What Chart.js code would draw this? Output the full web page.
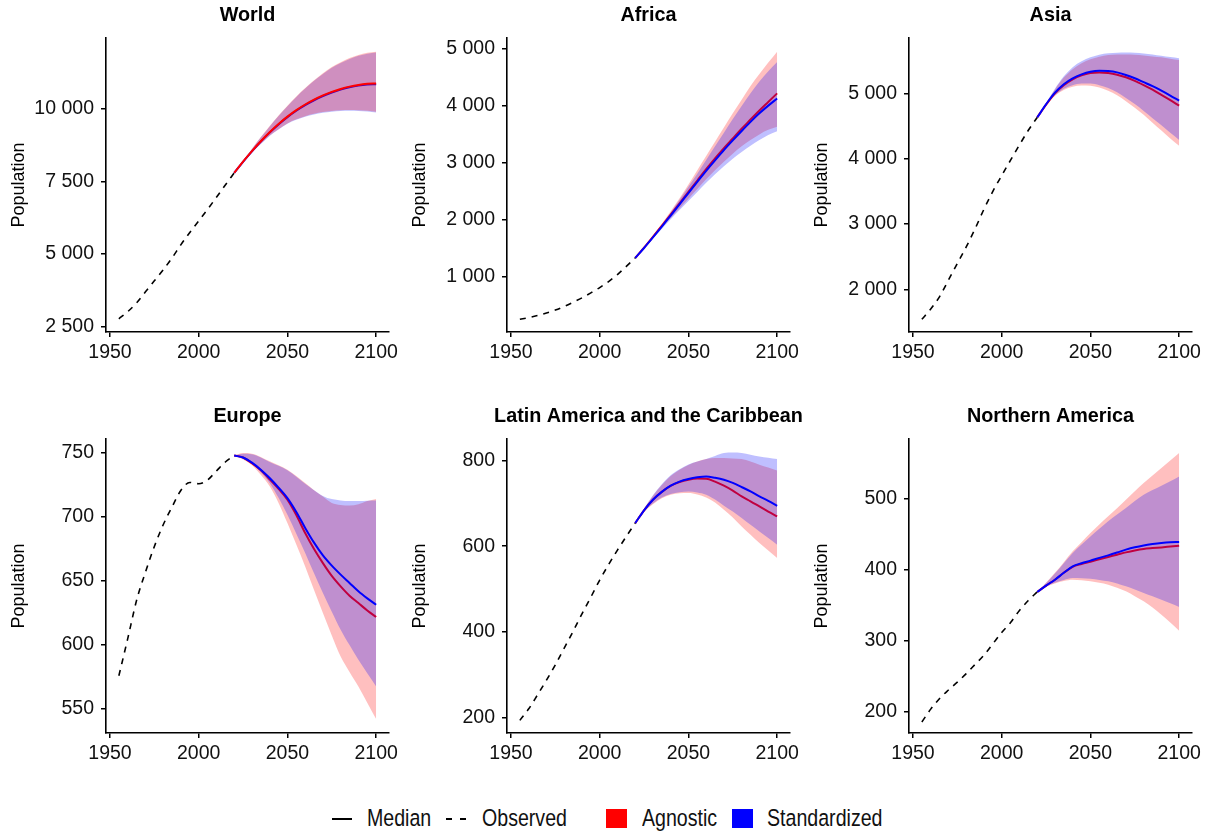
<!DOCTYPE html>
<html>
<head>
<meta charset="utf-8">
<script src="https://cdn.jsdelivr.net/npm/chart.js@4.4.1/dist/chart.umd.min.js"></script>
<style>
  html, body { margin: 0; overflow: hidden; }
  body { background: #fff; width: 1210px; height: 833px; position: relative;
         font-family: "Liberation Sans", Arial, sans-serif; }
  canvas { position: absolute; }
  .lg { position: absolute; }
  .lt { position: absolute; top: 807px; font-size: 19.6px; line-height: 19.6px; color: #111;
        transform: scaleY(1.18); transform-origin: 0 0; white-space: nowrap; }
</style>
</head>
<body>
<canvas id="p0" width="495" height="372" style="left:0;top:0"></canvas>
<canvas id="p1" width="495" height="372" style="left:401px;top:0"></canvas>
<canvas id="p2" width="495" height="372" style="left:803px;top:0"></canvas>
<canvas id="p3" width="495" height="372" style="left:0;top:401px"></canvas>
<canvas id="p4" width="495" height="372" style="left:401px;top:401px"></canvas>
<canvas id="p5" width="495" height="372" style="left:803px;top:401px"></canvas>

<div class="lg" style="left:332px;top:818px;width:20px;height:2px;background:#000"></div>
<span class="lt" style="left:367px">Median</span>
<div class="lg" style="left:446px;top:818px;width:6px;height:2px;background:#000"></div>
<div class="lg" style="left:460px;top:818px;width:6px;height:2px;background:#000"></div>
<span class="lt" style="left:482px">Observed</span>
<div class="lg" style="left:606px;top:809px;width:21px;height:19px;background:#ff0000"></div>
<span class="lt" style="left:642px">Agnostic</span>
<div class="lg" style="left:732px;top:809px;width:21px;height:19px;background:#0000ff"></div>
<span class="lt" style="left:767px">Standardized</span>

<script>
const obsYears = [1955, 1960, 1965, 1970, 1975, 1980, 1985, 1990, 1995, 2000, 2005, 2010, 2015, 2020];
const projYears = [2020, 2025, 2030, 2035, 2040, 2045, 2050, 2055, 2060, 2065, 2070, 2075, 2080, 2085, 2090, 2095, 2100];
const xTicks = [1950, 2000, 2050, 2100];

// World
const worldObserved = [2773, 3019, 3322, 3700, 4079, 4458, 4871, 5327, 5744, 6143, 6542, 6957, 7380, 7795];
const worldAgnMedian = [7795, 8184, 8548, 8888, 9199, 9482, 9735, 9958, 10152, 10321, 10466, 10588, 10688, 10768, 10827, 10863, 10875];
const worldAgnLower = [7795, 8165, 8500, 8800, 9080, 9300, 9500, 9640, 9750, 9830, 9890, 9930, 9955, 9965, 9955, 9935, 9905];
const worldAgnUpper = [7795, 8215, 8630, 9030, 9410, 9770, 10110, 10430, 10720, 10990, 11230, 11440, 11610, 11750, 11860, 11930, 11970];
const worldStdMedian = [7795, 8180, 8540, 8876, 9185, 9466, 9717, 9938, 10130, 10298, 10442, 10563, 10663, 10743, 10802, 10838, 10850];
const worldStdLower = [7795, 8160, 8492, 8790, 9068, 9288, 9486, 9624, 9732, 9810, 9868, 9906, 9930, 9938, 9928, 9908, 9880];
const worldStdUpper = [7795, 8210, 8622, 9020, 9398, 9756, 10094, 10412, 10700, 10968, 11206, 11414, 11584, 11722, 11830, 11900, 11940];
const worldTicks = [2500, 5000, 7500, 10000];

// Africa
const africaObserved = [254, 283, 320, 363, 415, 478, 552, 630, 717, 810, 916, 1039, 1182, 1330];
const africaAgnMedian = [1330, 1510, 1700, 1895, 2090, 2290, 2490, 2690, 2890, 3080, 3260, 3430, 3600, 3760, 3920, 4070, 4220];
const africaAgnLower = [1330, 1500, 1680, 1860, 2030, 2200, 2370, 2540, 2710, 2870, 3020, 3160, 3290, 3400, 3500, 3580, 3632];
const africaAgnUpper = [1330, 1520, 1720, 1930, 2150, 2380, 2620, 2870, 3120, 3370, 3620, 3870, 4110, 4350, 4560, 4760, 4950];
const africaStdMedian = [1330, 1505, 1690, 1880, 2075, 2270, 2470, 2665, 2860, 3045, 3225, 3395, 3560, 3720, 3870, 4005, 4130];
const africaStdLower = [1330, 1495, 1670, 1840, 2010, 2170, 2330, 2490, 2650, 2800, 2940, 3070, 3190, 3300, 3400, 3490, 3556];
const africaStdUpper = [1330, 1515, 1710, 1915, 2130, 2350, 2580, 2810, 3050, 3290, 3530, 3770, 4000, 4220, 4430, 4610, 4772];
const africaTicks = [1000, 2000, 3000, 4000, 5000];

// Asia
const asiaObserved = [1541, 1700, 1889, 2142, 2397, 2649, 2927, 3226, 3500, 3741, 3977, 4210, 4434, 4630];
const asiaAgnMedian = [4630, 4825, 5000, 5125, 5215, 5275, 5310, 5320, 5310, 5285, 5245, 5190, 5125, 5055, 4975, 4895, 4811];
const asiaAgnLower = [4630, 4820, 4960, 5050, 5100, 5120, 5115, 5090, 5040, 4970, 4880, 4780, 4670, 4550, 4430, 4310, 4198];
const asiaAgnUpper = [4630, 4850, 5060, 5240, 5370, 5460, 5520, 5560, 5585, 5595, 5595, 5590, 5580, 5565, 5550, 5530, 5510];
const asiaStdMedian = [4630, 4830, 5010, 5140, 5230, 5290, 5330, 5345, 5340, 5320, 5280, 5230, 5170, 5110, 5040, 4965, 4887];
const asiaStdLower = [4630, 4825, 4970, 5070, 5125, 5150, 5150, 5125, 5080, 5015, 4930, 4835, 4730, 4620, 4510, 4395, 4285];
const asiaStdUpper = [4630, 4855, 5070, 5260, 5400, 5490, 5550, 5590, 5612, 5622, 5625, 5620, 5610, 5595, 5575, 5555, 5536];
const asiaTicks = [2000, 3000, 4000, 5000];

// Europe
const europeObserved = [576, 605, 635, 657, 677, 694, 708, 721, 727, 726, 729, 736, 743, 748];
const europeAgnMedian = [748, 746.5, 742, 736.5, 729.5, 722, 713.5, 701.5, 687.5, 675, 664, 654, 645.8, 638.5, 632.8, 627, 621.9];
const europeAgnLower = [748, 745, 740.5, 733, 724, 711, 695.3, 678.5, 661.4, 643, 625, 607.5, 591, 579, 567.7, 555, 542.2];
const europeAgnUpper = [748, 750, 749.5, 747, 743.5, 740.5, 737, 732, 726.5, 721, 716, 711, 709.5, 709, 710, 712.5, 714];
const europeStdMedian = [748, 746.5, 742.5, 737, 730.5, 723, 714.8, 704, 691.5, 680, 670, 662, 655, 648.5, 642, 636.5, 631.5];
const europeStdLower = [748, 745.5, 741.5, 735, 726.6, 715, 701.8, 687, 671.9, 656, 640.6, 626, 612, 600, 588.5, 578, 567.7];
const europeStdUpper = [748, 749.5, 749, 746.5, 743, 740, 736.5, 731.5, 726, 721, 716.5, 714, 713, 712.5, 712.5, 712.8, 713];
const europeTicks = [550, 600, 650, 700, 750];

// Latin America and the Caribbean
const latamObserved = [193, 220, 253, 287, 323, 362, 401, 442, 481, 521, 557, 591, 623, 654];
const latamAgnMedian = [654, 684, 708.6, 727, 741, 750, 755.4, 758, 757.7, 751, 741.4, 730, 716.4, 705, 693, 681, 669.6];
const latamAgnLower = [654, 680, 698, 712, 720.4, 724, 724.3, 721, 714, 702, 685.3, 667, 646.3, 627, 607.5, 590, 572.4];
const latamAgnUpper = [654, 688, 718, 743, 764, 779, 790, 798, 804, 806, 806, 805, 803.8, 798, 790.5, 784, 777.1];
const latamStdMedian = [654, 684, 708.6, 727, 741.4, 751, 757, 761, 763, 760, 755.4, 748, 738.3, 728, 716.4, 706, 694.6];
const latamStdLower = [654, 681, 700, 714, 722, 726, 728, 725.5, 720.4, 709, 694.6, 681, 665.9, 650, 634.6, 619, 603.5];
const latamStdUpper = [654, 688, 719, 745, 766, 780, 791, 798, 803.8, 811, 817.8, 819, 817.8, 814, 809.9, 807, 803.8];
const latamTicks = [200, 400, 600, 800];

// Northern America
const namObserved = [186, 204, 219, 231, 242, 254, 267, 280, 296, 312, 326, 343, 357, 369];
const namAgnMedian = [369, 378, 386.3, 396, 404.5, 408.5, 411.7, 415, 418.3, 421.5, 424.8, 427.5, 429.6, 430.8, 431.8, 433, 434.2];
const namAgnLower = [369, 376, 381, 384.5, 386.3, 385.5, 384, 382, 379.3, 375, 369.9, 363, 355.8, 347, 337, 326, 314.5];
const namAgnUpper = [369, 382, 396, 411, 426.2, 439, 452.1, 464, 475.5, 487, 499, 511, 522.5, 533, 543.7, 554, 564.8];
const namStdMedian = [369, 378, 386.3, 396, 405, 409.5, 413.1, 417, 420.6, 424.5, 428.6, 432, 434.6, 436.5, 438, 439, 439.4];
const namStdLower = [369, 376.5, 382, 386, 388.7, 388.5, 387.7, 386, 384, 381, 376.9, 372.5, 367.6, 363, 358.2, 353, 347.9];
const namStdUpper = [369, 381.5, 395, 409.5, 424, 436, 447.3, 458, 468.5, 478, 487.3, 497, 506, 512.5, 518.7, 525, 531.8];
const namTicks = [200, 300, 400, 500];

const panels = [
  { title: 'World', obs: worldObserved, agn: [worldAgnLower, worldAgnMedian, worldAgnUpper],
    std: [worldStdLower, worldStdMedian, worldStdUpper], ticks: worldTicks, min: 2318, max: 12443, redOnTop: true },
  { title: 'Africa', obs: africaObserved, agn: [africaAgnLower, africaAgnMedian, africaAgnUpper],
    std: [africaStdLower, africaStdMedian, africaStdUpper], ticks: africaTicks, min: 30, max: 5193 },
  { title: 'Asia', obs: asiaObserved, agn: [asiaAgnLower, asiaAgnMedian, asiaAgnUpper],
    std: [asiaStdLower, asiaStdMedian, asiaStdUpper], ticks: asiaTicks, min: 1347, max: 5847 },
  { title: 'Europe', obs: europeObserved, agn: [europeAgnLower, europeAgnMedian, europeAgnUpper],
    std: [europeStdLower, europeStdMedian, europeStdUpper], ticks: europeTicks, min: 531.3, max: 761 },
  { title: 'Latin America and the Caribbean', obs: latamObserved, agn: [latamAgnLower, latamAgnMedian, latamAgnUpper],
    std: [latamStdLower, latamStdMedian, latamStdUpper], ticks: latamTicks, min: 163.5, max: 850.7 },
  { title: 'Northern America', obs: namObserved, agn: [namAgnLower, namAgnMedian, namAgnUpper],
    std: [namStdLower, namStdMedian, namStdUpper], ticks: namTicks, min: 170.4, max: 584.5 }
];

const FONT = '"Liberation Sans", Arial, sans-serif';
const fmt = v => String(v).replace(/\B(?=(\d{3})+(?!\d))/g, ' ');
const pts = (xs, ys) => xs.map((x, i) => ({ x: x, y: ys[i] }));
const none = 'rgba(0,0,0,0)';

function drawPanel(id, p) {
  // in World the agnostic layer sits above the standardized one
  const agnBand = p.redOnTop ? 40 : 60, agnLine = p.redOnTop ? 30 : 50;
  const stdBand = p.redOnTop ? 60 : 40, stdLine = p.redOnTop ? 50 : 30;
  const axisGrid = { drawOnChartArea: false, drawTicks: true, tickLength: 5, color: '#000', lineWidth: 1.5 };
  const axisBorder = { display: true, color: '#000', width: 1.6 };

  new Chart(document.getElementById(id), {
    type: 'line',
    data: {
      datasets: [
        { data: pts(projYears, p.agn[0]), fill: false, borderColor: none, borderWidth: 0, order: agnBand + 1 },
        { data: pts(projYears, p.agn[2]), fill: 0, backgroundColor: 'rgba(255,0,0,0.25)', borderColor: none, borderWidth: 0, order: agnBand },
        { data: pts(projYears, p.std[0]), fill: false, borderColor: none, borderWidth: 0, order: stdBand + 1 },
        { data: pts(projYears, p.std[2]), fill: 2, backgroundColor: 'rgba(0,0,255,0.25)', borderColor: none, borderWidth: 0, order: stdBand },
        { data: pts(projYears, p.agn[1]), fill: false, borderColor: '#ff0000', borderWidth: 2, order: agnLine },
        { data: pts(projYears, p.std[1]), fill: false, borderColor: '#0000ff', borderWidth: 2, order: stdLine },
        { data: pts(obsYears, p.obs), fill: false, borderColor: '#000', borderWidth: 1.6, borderDash: [6, 6], order: 10 }
      ]
    },
    options: {
      responsive: false,
      animation: false,
      events: [],
      devicePixelRatio: 1,
      layout: { padding: 0 },
      elements: {
        point: { radius: 0 },
        line: { cubicInterpolationMode: 'monotone' }
      },
      plugins: {
        legend: { display: false },
        tooltip: { enabled: false },
        title: {
          display: true, text: p.title, color: '#000',
          font: { family: FONT, size: 19.8, weight: 'bold', lineHeight: 1.2 },
          padding: { top: 4, bottom: 10.2 }
        }
      },
      scales: {
        x: {
          type: 'linear', min: 1947.75, max: 2107.25,
          afterBuildTicks: s => { s.ticks = xTicks.map(v => ({ value: v })); },
          afterFit: s => { s.height = 40; s.paddingLeft = 0; s.paddingRight = 0; },
          grid: axisGrid, border: axisBorder,
          ticks: { color: '#111', font: { family: FONT, size: 19.5 }, padding: 3.5, maxRotation: 0, autoSkip: false,
                   callback: v => String(v) }
        },
        y: {
          min: p.min, max: p.max,
          afterBuildTicks: s => { s.ticks = p.ticks.map(v => ({ value: v })); },
          afterFit: s => { s.width = 106; s.paddingTop = 0; s.paddingBottom = 0; },
          grid: axisGrid, border: axisBorder,
          ticks: { color: '#111', font: { family: FONT, size: 19.5 }, padding: 7, callback: v => fmt(v) },
          title: { display: true, text: 'Population', color: '#000', font: { family: FONT, size: 18 }, padding: { top: 8, bottom: 0 } }
        },
        // empty spacer on the right, same width as the y axis, so the title centres over the plot
        spacer: {
          type: 'linear', position: 'right', min: 0, max: 1,
          afterFit: s => { s.width = 106; s.paddingTop = 0; s.paddingBottom = 0; },
          grid: { display: false }, border: { display: false }, ticks: { display: false }
        }
      }
    }
  });
}

panels.forEach((p, i) => drawPanel('p' + i, p));
</script>
</body>
</html>
